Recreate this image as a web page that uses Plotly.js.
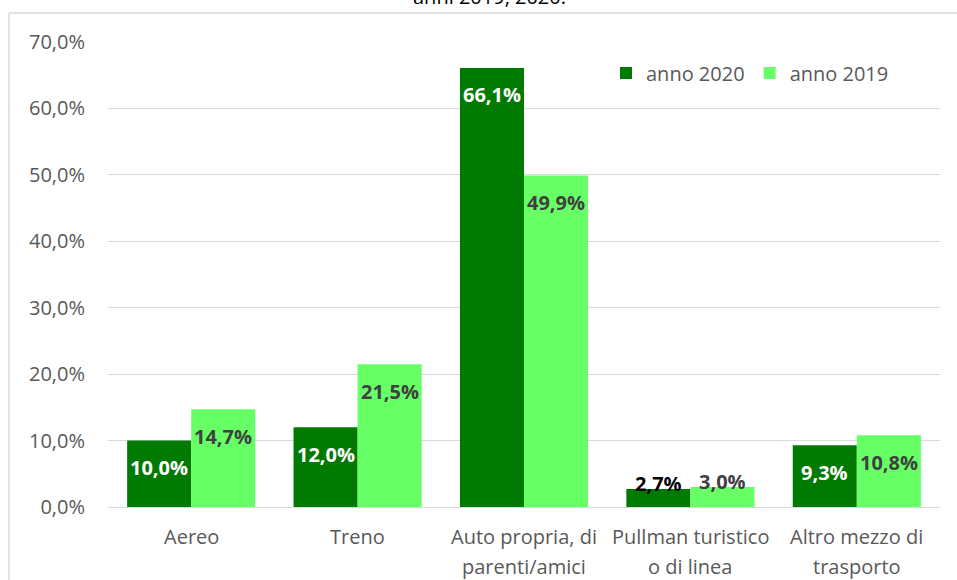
<!DOCTYPE html>
<html>
<head>
<meta charset="utf-8">
<script src="https://cdn.plot.ly/plotly-3.0.1.min.js"></script>
<style>html,body{margin:0;padding:0;background:#fff;}#chart{width:957px;height:580px;}</style>
</head>
<body>
<div id="chart"></div>
<script>
// Data
var categories = ["Aereo", "Treno", "Auto propria, di parenti/amici", "Pullman turistico o di linea", "Altro mezzo di trasporto"];
var categoryLines = [["Aereo"], ["Treno"], ["Auto propria, di", "parenti/amici"], ["Pullman turistico", "o di linea"], ["Altro mezzo di", "trasporto"]];
var values2020 = [10.0, 12.0, 66.1, 2.7, 9.3];
var values2019 = [14.7, 21.5, 49.9, 3.0, 10.8];
var seriesNames = ["anno 2020", "anno 2019"];
var yTicks = [0, 10, 20, 30, 40, 50, 60, 70];
var titleText = "anni 2019, 2020.";

var FONT = "Open Sans, Noto Sans, sans-serif";
var C2020 = "#007A00", C2019 = "#66FF66";
var ML = 108, MR = 17, MT = 42, MB = 73, W = 957, H = 580;
var plotW = W - ML - MR, plotH = H - MT - MB;
var yMax = 70;
var pxPerUnit = plotH / yMax;
var bargap = 0.23;
var half = (1 - bargap) / 2;

function fmt(v) { return v.toFixed(1).replace('.', ',') + '%'; }

var xIdx = categories.map(function (c, i) { return i; });

var traces = [
  { type: 'bar', name: seriesNames[0], x: xIdx, y: values2020, marker: { color: C2020 }, hoverinfo: 'skip' },
  { type: 'bar', name: seriesNames[1], x: xIdx, y: values2019, marker: { color: C2019 }, hoverinfo: 'skip' }
];

var annotations = [];
function addLabels(vals, offset, insideColor, outsideColor) {
  vals.forEach(function (v, i) {
    var inside = v * pxPerUnit > 40;
    annotations.push({
      xref: 'x', yref: 'y', x: i + offset, y: v,
      text: '<b>' + fmt(v) + '</b>', showarrow: false,
      yanchor: 'middle', xanchor: 'center',
      yshift: inside ? -27 : 6,
      font: { family: FONT, size: 20, color: inside ? insideColor : outsideColor }
    });
  });
}
addLabels(values2020, -half / 2, '#FFFFFF', '#000000');
addLabels(values2019, half / 2, '#404040', '#404040');

// category labels (two lines with Excel-like spacing)
categoryLines.forEach(function (lines, i) {
  lines.forEach(function (ln, k) {
    annotations.push({
      xref: 'x', yref: 'paper', x: i, y: 0, yanchor: 'middle', xanchor: 'center',
      yshift: -(29 + k * 30), text: ln, showarrow: false,
      font: { family: FONT, size: 20, color: '#595959' }
    });
  });
});

// clipped title line (cut at the top edge, as in the source image)
annotations.push({
  xref: 'paper', yref: 'paper', x: (489 - ML) / plotW, y: (H - MB - 12) / plotH,
  xanchor: 'center', yanchor: 'bottom', text: titleText, showarrow: false,
  font: { family: FONT, size: 20, color: '#000000' }
});

var layout = {
  width: W, height: H,
  margin: { l: ML, r: MR, t: MT, b: MB, pad: 0 },
  paper_bgcolor: '#FFFFFF', plot_bgcolor: '#FFFFFF',
  barmode: 'group', bargap: bargap, bargroupgap: 0,
  showlegend: true,
  legend: {
    orientation: 'h', x: (606 - ML) / plotW, y: (H - MB - 73) / plotH,
    xanchor: 'left', yanchor: 'middle',
    font: { family: FONT, size: 20, color: '#595959' },
    bgcolor: 'rgba(0,0,0,0)', itemwidth: 30, tracegroupgap: 0
  },
  xaxis: {
    range: [-0.5, categories.length - 0.5],
    tickvals: xIdx, showticklabels: false,
    showgrid: false, zeroline: false, showline: false, ticks: '', fixedrange: true
  },
  yaxis: {
    range: [0, yMax], tickvals: yTicks,
    ticktext: yTicks.map(function (t) { return t.toFixed(1).replace('.', ',') + '%'; }),
    showgrid: true, gridcolor: '#D9D9D9', gridwidth: 1,
    zeroline: true, zerolinecolor: '#D9D9D9', zerolinewidth: 1,
    showline: false, ticks: '', ticklabelstandoff: 22,
    tickfont: { family: FONT, size: 20, color: '#595959' }, fixedrange: true
  },
  shapes: [
    { type: 'line', xref: 'paper', yref: 'paper', x0: (9 - ML) / plotW, x1: (W + 5 - ML) / plotW,
      y0: (H - MB - 13) / plotH, y1: (H - MB - 13) / plotH, line: { color: '#D9D9D9', width: 1.5 } },
    { type: 'line', xref: 'paper', yref: 'paper', x0: (9 - ML) / plotW, x1: (9 - ML) / plotW,
      y0: (H - MB - 13) / plotH, y1: (H - MB - H - 5) / plotH, line: { color: '#D9D9D9', width: 1.5 } }
  ],
  annotations: annotations
};

Plotly.newPlot('chart', traces, layout, { staticPlot: true, displayModeBar: false });
</script>
</body>
</html>
